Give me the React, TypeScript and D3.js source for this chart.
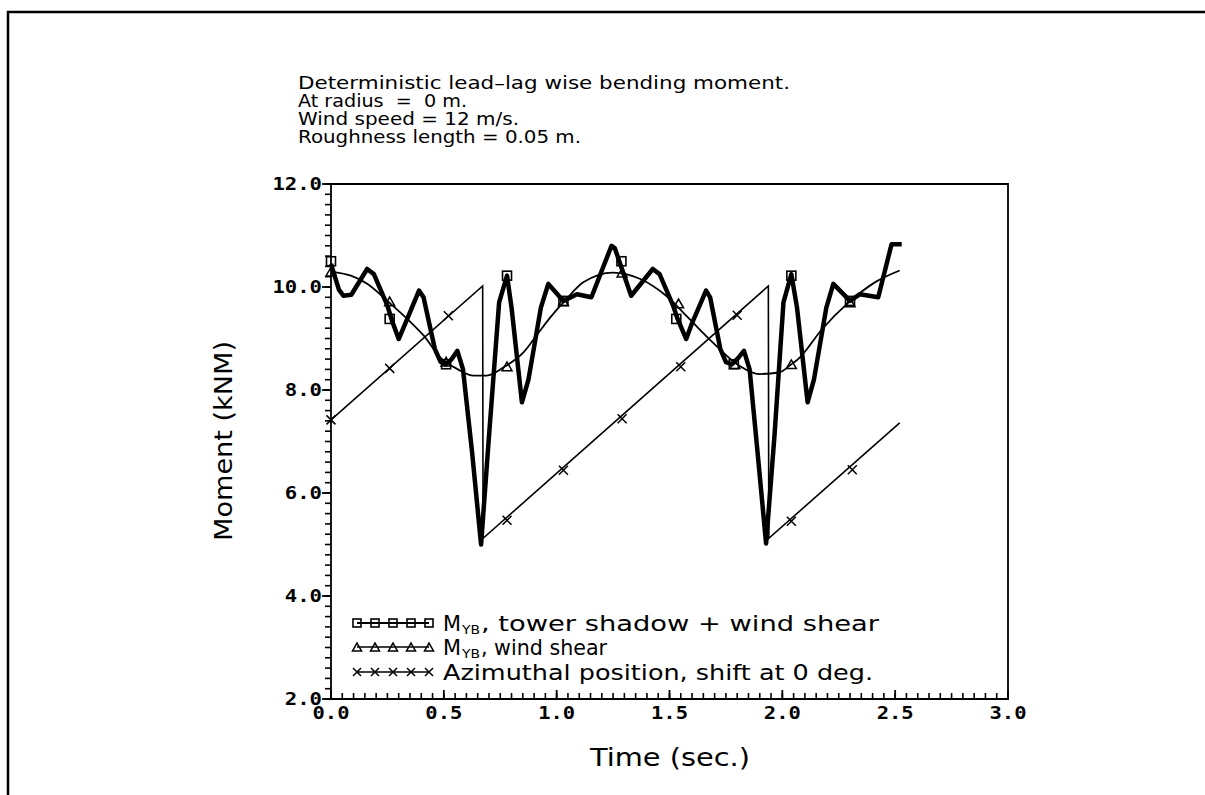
import React from 'react';
import * as d3 from 'd3';

const W = 1205;
const H = 795;

// ---- text ----
const titleLines = [
  'Deterministic lead\u2013lag wise bending moment.',
  'At radius  =  0 m.',
  'Wind speed = 12 m/s.',
  'Roughness length = 0.05 m.',
];
const titleWidths = [492, 169, 221, 283];
const xAxisTitle = 'Time (sec.)';
const yAxisTitle = 'Moment (kNM)';

const xTickValues = [0, 0.5, 1, 1.5, 2, 2.5, 3];
const xTickLabels = ['0.0', '0.5', '1.0', '1.5', '2.0', '2.5', '3.0'];
const yTickValues = [2, 4, 6, 8, 10, 12];
const yTickLabels = ['2.0', '4.0', '6.0', '8.0', '10.0', '12.0'];

// ---- series: M_YB, tower shadow + wind shear ----
const shadowTime = [
  0.0, 0.035, 0.055, 0.09, 0.16, 0.19, 0.25, 0.27, 0.3, 0.33, 0.39, 0.41, 0.46, 0.485, 0.51, 0.535, 0.56,
  0.585, 0.625, 0.665, 0.7, 0.745, 0.78, 0.8, 0.846, 0.875, 0.93, 0.963, 1.03, 1.09, 1.154, 1.243, 1.258,
  1.33, 1.426, 1.456, 1.516, 1.536, 1.574, 1.6, 1.662, 1.68, 1.725, 1.75, 1.776, 1.8, 1.83, 1.855, 1.89,
  1.928, 1.965, 2.005, 2.04, 2.065, 2.112, 2.14, 2.195, 2.226, 2.3, 2.344, 2.425, 2.484, 2.529,
];
const shadowMoment = [
  10.45, 9.95, 9.83, 9.85, 10.35, 10.25, 9.64, 9.35, 8.99, 9.3, 9.93, 9.8, 8.8, 8.55, 8.5, 8.6, 8.76,
  8.4, 6.8, 5.0, 7.1, 9.7, 10.22, 9.6, 7.76, 8.2, 9.6, 10.06, 9.73, 9.86, 9.8, 10.8, 10.75,
  9.83, 10.35, 10.25, 9.64, 9.38, 8.99, 9.3, 9.93, 9.8, 8.8, 8.54, 8.5, 8.6, 8.76, 8.4, 6.8,
  5.02, 7.1, 9.7, 10.25, 9.6, 7.76, 8.2, 9.6, 10.06, 9.73, 9.86, 9.8, 10.83, 10.83,
];
const shadowMarkTime = [0.0, 0.26, 0.51, 0.78, 1.03, 1.287, 1.53, 1.785, 2.04, 2.3];
const shadowMarkMoment = [10.5, 9.38, 8.5, 10.22, 9.73, 10.5, 9.38, 8.5, 10.22, 9.73];

// ---- series: M_YB, wind shear ----
const shearTime = [
  0.0, 0.088, 0.162, 0.25, 0.338, 0.412, 0.485, 0.559, 0.632, 0.69, 0.765, 0.853, 0.926, 0.97, 1.044,
  1.118, 1.25, 1.368, 1.485, 1.588, 1.69, 1.81, 1.897, 1.985, 2.04, 2.07, 2.176, 2.294, 2.41, 2.52,
];
const shearMoment = [
  10.3, 10.22, 10.06, 9.73, 9.38, 9.05, 8.63, 8.41, 8.28, 8.28, 8.44, 8.73, 9.15, 9.4, 9.77,
  10.09, 10.28, 10.16, 9.83, 9.38, 8.93, 8.47, 8.31, 8.34, 8.5, 8.6, 9.18, 9.7, 10.09, 10.32,
];
const shearMarkTime = [0.0, 0.26, 0.51, 0.78, 1.03, 1.29, 1.54, 1.79, 2.04, 2.3];
const shearMarkMoment = [10.3, 9.72, 8.55, 8.46, 9.72, 10.28, 9.68, 8.5, 8.5, 9.7];

// ---- series: Azimuthal position ----
const azimuthTime = [0.0, 0.672, 0.674, 1.938, 1.94, 2.52];
const azimuthValue = [7.42, 10.02, 5.12, 10.02, 5.12, 7.36];
const azimuthMarkTime = [0.0, 0.26, 0.52, 0.78, 1.03, 1.29, 1.55, 1.8, 2.04, 2.31];
const azimuthMarkValue = [7.42, 8.42, 9.44, 5.47, 6.44, 7.44, 8.45, 9.45, 5.45, 6.45];

const legendMain = ['M', 'M', ''];
const legendSub = ['YB', 'YB', ''];
const legendRest = [', tower shadow + wind shear', ', wind shear', 'Azimuthal position, shift at 0 deg.'];
const legendRestWidths = [398, 126, 430];

const SANS = '"DejaVu Sans", sans-serif';
const MONO = '"DejaVu Sans Mono", monospace';

function Square({ cx, cy, s = 9 }: { cx: number; cy: number; s?: number }) {
  return <rect x={cx - s / 2} y={cy - s / 2} width={s} height={s} fill="none" stroke="#000" strokeWidth={1.6} />;
}
function Triangle({ cx, cy, s = 10 }: { cx: number; cy: number; s?: number }) {
  const h = s * 0.87;
  return (
    <path
      d={`M${cx - s / 2},${cy + h / 2}L${cx + s / 2},${cy + h / 2}L${cx},${cy - h / 2}Z`}
      fill="none"
      stroke="#000"
      strokeWidth={1.5}
    />
  );
}
function Cross({ cx, cy, s = 9 }: { cx: number; cy: number; s?: number }) {
  const r = s / 2;
  return (
    <path d={`M${cx - r},${cy - r}L${cx + r},${cy + r}M${cx - r},${cy + r}L${cx + r},${cy - r}`} stroke="#000" strokeWidth={1.5} />
  );
}

export default function App() {
  const x = d3.scaleLinear().domain([0, 3]).range([331, 1008]);
  const y = d3.scaleLinear().domain([2, 12]).range([699, 184]);

  const lineLinear = d3
    .line<[number, number]>()
    .x((d) => x(d[0]))
    .y((d) => y(d[1]));
  const lineSmooth = d3
    .line<[number, number]>()
    .x((d) => x(d[0]))
    .y((d) => y(d[1]))
    .curve(d3.curveMonotoneX);

  const shadowPts = shadowTime.map((t, i) => [t, shadowMoment[i]] as [number, number]);
  const shearPts = shearTime.map((t, i) => [t, shearMoment[i]] as [number, number]);
  const azPts = azimuthTime.map((t, i) => [t, azimuthValue[i]] as [number, number]);

  const xMinor = d3.range(0, 3.0001, 0.05);
  const yMinor = d3.range(2, 12.0001, 0.2);

  const legendY = [623, 647, 672];
  const legendXs = [357, 375, 393, 411, 429];

  return (
    <svg width={W} height={H} style={{ position: 'absolute', left: 0, top: 0, background: '#fff' }}>
      <rect x={0} y={0} width={W} height={H} fill="#fff" />
      {/* page frame */}
      <path d={`M8,${H}L8,12L${W},12`} fill="none" stroke="#000" strokeWidth={2.5} />

      {/* title */}
      {titleLines.map((s, i) => (
        <text
          key={i}
          x={298}
          y={89 + i * 18}
          fontFamily={SANS}
          fontSize={17}
          textLength={titleWidths[i]}
          lengthAdjust="spacingAndGlyphs"
          style={{ whiteSpace: 'pre' }}
        >
          {s}
        </text>
      ))}

      {/* plot frame */}
      <path
        d={`M${x(0)},${y(2)}L${x(0)},${y(12)}L${x(3)},${y(12)}L${x(3)},${y(2)}Z`}
        fill="none"
        stroke="#000"
        strokeWidth={1.8}
      />
      {/* y ticks */}
      {yMinor.map((v, i) => (
        <line key={'ym' + i} x1={x(0) - 6} x2={x(0)} y1={y(v)} y2={y(v)} stroke="#000" strokeWidth={1.6} />
      ))}
      {yTickValues.map((v, i) => (
        <g key={'yt' + i}>
          <line x1={x(0) - 9} x2={x(0)} y1={y(v)} y2={y(v)} stroke="#000" strokeWidth={1.8} />
          <text
            x={322}
            y={y(v) + 6}
            textAnchor="end"
            fontFamily={MONO}
            fontSize={18}
            fontWeight={600}
            textLength={yTickLabels[i].length * 12.4}
            lengthAdjust="spacingAndGlyphs"
          >
            {yTickLabels[i]}
          </text>
        </g>
      ))}
      {/* x ticks */}
      {xMinor.map((v, i) => (
        <line key={'xm' + i} x1={x(v)} x2={x(v)} y1={y(2)} y2={y(2) - 6} stroke="#000" strokeWidth={1.6} />
      ))}
      {xTickValues.map((v, i) => (
        <g key={'xt' + i}>
          <line x1={x(v)} x2={x(v)} y1={y(2)} y2={y(2) - 9} stroke="#000" strokeWidth={1.8} />
          <text
            x={x(v)}
            y={719}
            textAnchor="middle"
            fontFamily={MONO}
            fontSize={18}
            fontWeight={600}
            textLength={37}
            lengthAdjust="spacingAndGlyphs"
          >
            {xTickLabels[i]}
          </text>
        </g>
      ))}

      {/* axis titles */}
      <text x={670} y={766} textAnchor="middle" fontFamily={SANS} fontSize={24} textLength={160} lengthAdjust="spacingAndGlyphs">
        {xAxisTitle}
      </text>
      <text
        transform={`translate(232,441) rotate(-90)`}
        textAnchor="middle"
        fontFamily={SANS}
        fontSize={24}
        textLength={200}
        lengthAdjust="spacingAndGlyphs"
      >
        {yAxisTitle}
      </text>

      {/* series */}
      <path d={lineSmooth(shearPts) || ''} fill="none" stroke="#000" strokeWidth={1.8} />
      <path d={lineLinear(azPts) || ''} fill="none" stroke="#000" strokeWidth={1.6} />
      <path d={lineLinear(shadowPts) || ''} fill="none" stroke="#000" strokeWidth={4.5} strokeLinejoin="round" />

      {shadowMarkTime.map((t, i) => (
        <Square key={'sq' + i} cx={x(t)} cy={y(shadowMarkMoment[i])} />
      ))}
      {shearMarkTime.map((t, i) => (
        <Triangle key={'tr' + i} cx={x(t)} cy={y(shearMarkMoment[i])} />
      ))}
      {azimuthMarkTime.map((t, i) => (
        <Cross key={'cr' + i} cx={x(t)} cy={y(azimuthMarkValue[i])} />
      ))}

      {/* legend */}
      {legendY.map((ly, r) => (
        <g key={'lg' + r}>
          <line x1={legendXs[0]} x2={legendXs[legendXs.length - 1]} y1={ly} y2={ly} stroke="#000" strokeWidth={r === 0 ? 2.2 : 1.6} />
          {legendXs.map((lx, k) =>
            r === 0 ? (
              <Square key={k} cx={lx} cy={ly} s={8} />
            ) : r === 1 ? (
              <Triangle key={k} cx={lx} cy={ly} s={9} />
            ) : (
              <Cross key={k} cx={lx} cy={ly} s={8} />
            )
          )}
          {legendMain[r] ? (
            <>
              <text x={443} y={ly + 8} fontFamily={SANS} fontSize={21} textLength={18} lengthAdjust="spacingAndGlyphs">
                {legendMain[r]}
              </text>
              <text x={462} y={ly + 11} fontFamily={SANS} fontSize={13} textLength={18} lengthAdjust="spacingAndGlyphs">
                {legendSub[r]}
              </text>
              <text
                x={481}
                y={ly + 8}
                fontFamily={SANS}
                fontSize={21}
                textLength={legendRestWidths[r]}
                lengthAdjust="spacingAndGlyphs"
                style={{ whiteSpace: 'pre' }}
              >
                {legendRest[r]}
              </text>
            </>
          ) : (
            <text
              x={443}
              y={ly + 8}
              fontFamily={SANS}
              fontSize={21}
              textLength={legendRestWidths[r]}
              lengthAdjust="spacingAndGlyphs"
            >
              {legendRest[r]}
            </text>
          )}
        </g>
      ))}
    </svg>
  );
}
